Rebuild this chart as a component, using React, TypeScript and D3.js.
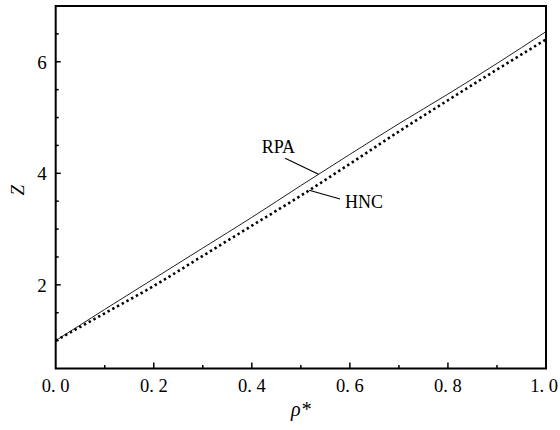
import React, { useRef, useEffect } from 'react';
import * as d3 from 'd3';

// reduced density and compressibility factor
const rho = [0, 0.1, 0.2, 0.3, 0.4, 0.5, 0.6, 0.7, 0.8, 0.9, 1.0];
const zRPA = [1.0, 1.56, 2.11, 2.66, 3.21, 3.78, 4.34, 4.89, 5.42, 5.97, 6.54];
const zHNC = [1.0, 1.49, 1.98, 2.52, 3.06, 3.6, 4.17, 4.75, 5.31, 5.86, 6.4];

const xMajor = [0, 0.2, 0.4, 0.6, 0.8, 1.0];
const xMinor = [0.1, 0.3, 0.5, 0.7, 0.9];
const yMajor = [2, 4, 6];
const yMinor = [1, 1.5, 2.5, 3, 3.5, 4.5, 5, 5.5, 6.5];

// curve labels: text position and leader line, in data units
const labelRPA = { text: 'RPA', x: 0.42, z: 4.36, from: [0.468, 4.27], to: 0.536 };
const labelHNC = { text: 'HNC', x: 0.59, z: 3.38, from: [0.58, 3.54], to: 0.517 };

const W = 560;
const H = 430;
const FONT = '"Liberation Serif", "Times New Roman", serif';

const App = () => {
  const svgRef = useRef<SVGSVGElement>(null);

  useEffect(() => {
    const margin = { top: 6, right: 14, bottom: 61.5, left: 55.7 };
    const svg = d3.select(svgRef.current).attr('width', W).attr('height', H);
    svg.selectAll('*').remove();

    const x = d3.scaleLinear().domain([0, 1]).range([margin.left, W - margin.right]);
    const y = d3.scaleLinear().domain([0.5, 7]).range([H - margin.bottom, margin.top]);

    const interp = (arr: number[], v: number) => {
      const i = Math.min(Math.floor(v * 10), 9);
      const t = (v - rho[i]) / (rho[i + 1] - rho[i]);
      return arr[i] + (arr[i + 1] - arr[i]) * t;
    };

    const line = d3
      .line<number>()
      .x((d, i) => x(rho[i]))
      .y(d => y(d))
      .curve(d3.curveMonotoneX);

    svg
      .append('path')
      .datum(zRPA)
      .attr('fill', 'none')
      .attr('stroke', '#222')
      .attr('stroke-width', 1)
      .attr('d', line);

    svg
      .append('path')
      .datum(zHNC)
      .attr('fill', 'none')
      .attr('stroke', '#000')
      .attr('stroke-width', 2.6)
      .attr('stroke-dasharray', '2.4,3')
      .attr('d', line);

    // frame
    svg
      .append('rect')
      .attr('x', x(0))
      .attr('y', y(7))
      .attr('width', x(1) - x(0))
      .attr('height', y(0.5) - y(7))
      .attr('fill', 'none')
      .attr('stroke', '#000')
      .attr('stroke-width', 2);

    // x ticks (inward)
    const bottom = y(0.5);
    svg
      .selectAll('.xmaj')
      .data(xMajor.slice(1, -1))
      .enter()
      .append('line')
      .attr('x1', d => x(d))
      .attr('x2', d => x(d))
      .attr('y1', bottom)
      .attr('y2', bottom - 6)
      .attr('stroke', '#000')
      .attr('stroke-width', 1.5);
    svg
      .selectAll('.xmin')
      .data(xMinor)
      .enter()
      .append('line')
      .attr('x1', d => x(d))
      .attr('x2', d => x(d))
      .attr('y1', bottom)
      .attr('y2', bottom - 3.5)
      .attr('stroke', '#000')
      .attr('stroke-width', 1.5);
    svg
      .selectAll('.xlab')
      .data(xMajor)
      .enter()
      .append('text')
      .attr('x', d => x(d))
      .attr('dx', d => (d === 1 ? -2 : 0))
      .attr('y', bottom + 23.5)
      .attr('text-anchor', 'middle')
      .style('font-family', FONT)
      .style('font-size', '18.5px')
      .text(d => d3.format('.1f')(d).replace('.', '. '));

    // y ticks (inward)
    const left = x(0);
    svg
      .selectAll('.ymaj')
      .data(yMajor)
      .enter()
      .append('line')
      .attr('x1', left)
      .attr('x2', left + 5)
      .attr('y1', d => y(d))
      .attr('y2', d => y(d))
      .attr('stroke', '#000')
      .attr('stroke-width', 1.5);
    svg
      .selectAll('.ymin')
      .data(yMinor)
      .enter()
      .append('line')
      .attr('x1', left)
      .attr('x2', left + 3)
      .attr('y1', d => y(d))
      .attr('y2', d => y(d))
      .attr('stroke', '#000')
      .attr('stroke-width', 1.5);
    svg
      .selectAll('.ylab')
      .data(yMajor)
      .enter()
      .append('text')
      .attr('x', left - 9)
      .attr('y', d => y(d) + 7)
      .attr('text-anchor', 'end')
      .style('font-family', FONT)
      .style('font-size', '19px')
      .text(d => d);

    // axis titles
    svg
      .append('text')
      .attr('transform', `translate(24, ${(y(0.5) + y(7)) / 2 + 3}) rotate(-90)`)
      .attr('text-anchor', 'middle')
      .style('font-family', FONT)
      .style('font-style', 'italic')
      .style('font-size', '19px')
      .text('Z');
    svg
      .append('text')
      .attr('x', (x(0) + x(1)) / 2)
      .attr('y', 416)
      .attr('text-anchor', 'middle')
      .style('font-family', FONT)
      .style('font-style', 'italic')
      .style('font-size', '20px')
      .text('ρ*');

    // curve annotations
    [
      { ...labelRPA, arr: zRPA },
      { ...labelHNC, arr: zHNC },
    ].forEach(l => {
      svg
        .append('line')
        .attr('x1', x(l.from[0]))
        .attr('y1', y(l.from[1]))
        .attr('x2', x(l.to))
        .attr('y2', y(interp(l.arr, l.to)))
        .attr('stroke', '#000')
        .attr('stroke-width', 1.2);
      svg
        .append('text')
        .attr('x', x(l.x))
        .attr('y', y(l.z))
        .style('font-family', FONT)
        .style('font-size', '18px')
        .text(l.text);
    });
  }, []);

  return <svg ref={svgRef} style={{ position: 'absolute', left: 0, top: 0, background: '#fff' }}></svg>;
};

export default App;
